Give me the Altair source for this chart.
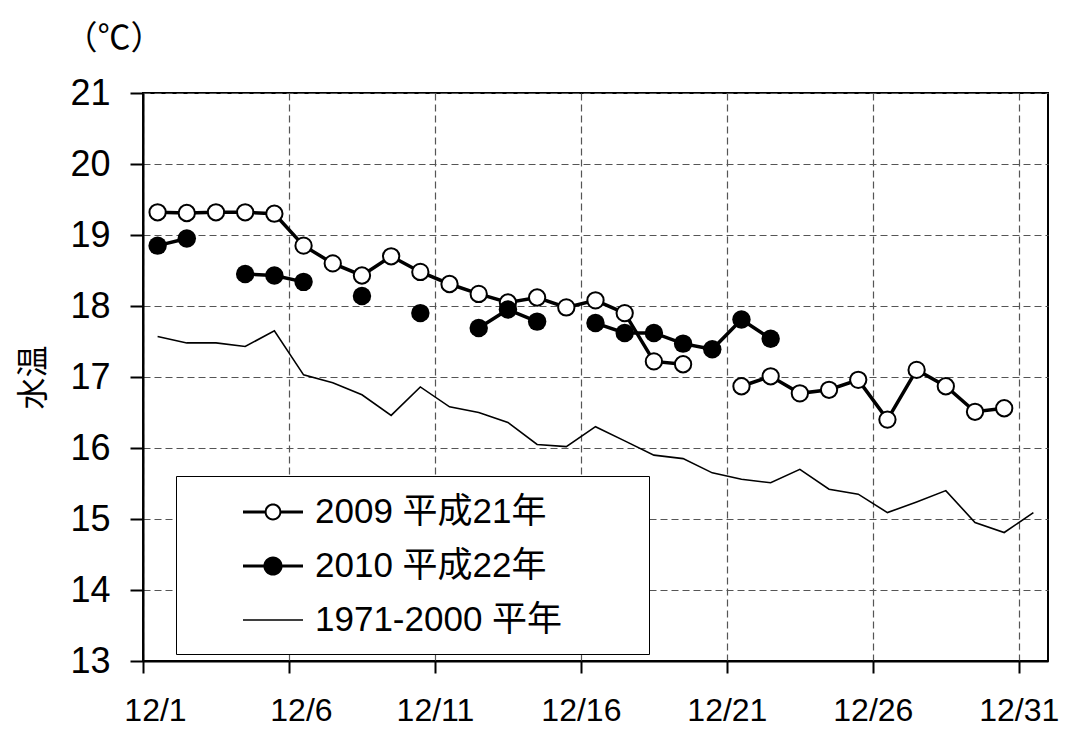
import altair as alt
import pandas as pd

# ---- data ----
days = list(range(1, 32))
s09 = "2009 平成21年"
s10 = "2010 平成22年"
sn = "1971-2000 平年"
series_names = [s09, s10, sn]

t2009 = [19.32, 19.31, 19.32, 19.32, 19.30, 18.85, 18.60, 18.43, 18.70, 18.48,
         18.31, 18.17, 18.05, 18.12, 17.98, 18.08, 17.90, 17.22, 17.18, None,
         16.87, 17.01, 16.77, 16.82, 16.96, 16.40, 17.10, 16.87, 16.51, 16.56, None]
t2010 = [18.85, 18.95, None, 18.45, 18.43, 18.34, None, 18.14, None, 17.90,
         None, 17.69, 17.95, 17.78, None, 17.76, 17.62, 17.62, 17.47, 17.39,
         17.81, 17.54, None, None, None, None, None, None, None, None, None]
tnorm = [17.57, 17.48, 17.48, 17.43, 17.65, 17.03, 16.92, 16.75, 16.46, 16.86,
         16.58, 16.50, 16.36, 16.05, 16.02, 16.30, 16.10, 15.90, 15.85, 15.65,
         15.56, 15.51, 15.70, 15.42, 15.35, 15.09, 15.24, 15.40, 14.95, 14.81, 15.09]

x_ticks = [1, 6, 11, 16, 21, 26, 31]
y_ticks = list(range(13, 22))

# ---- long table, line segments break at missing days ----
rows = []
for name, vals in [(s09, t2009), (s10, t2010), (sn, tnorm)]:
    seg = 0
    for d, v in zip(days, vals):
        if v is None:
            seg += 1
            continue
        rows.append({"series": name, "day": d, "pos": d + 0.5, "value": v, "seg": seg})
df = pd.DataFrame(rows)

FONT = "Liberation Sans, Arial, Noto Sans CJK JP"
CJK = "Noto Sans CJK JP"

x = alt.X("pos:Q", scale=alt.Scale(domain=[1, 32], nice=False, zero=False),
          axis=alt.Axis(values=x_ticks, labelExpr="'12/' + datum.value", title=None,
                        tickSize=12, labelPadding=22, labelFontSize=32,
                        labelFlush=False,
                        labelOffset={"condition": {"test": "datum.value < 10", "value": 12},
                                     "value": 0}))
y = alt.Y("value:Q", scale=alt.Scale(domain=[13, 21], nice=False, zero=False),
          axis=alt.Axis(values=y_ticks, title="水温", tickSize=13, labelPadding=20,
                        labelFontSize=36, titleFont=CJK, titleFontSize=32,
                        titleFontWeight="normal", titleAngle=270, titleX=-110,
                        titleY=284, titleAlign="center", titleBaseline="middle",
                        titleColor="black"))

base = alt.Chart(df)

normal_line = base.transform_filter(alt.datum.series == sn).mark_line(
    color="black", strokeWidth=1.6).encode(x=x, y=y)

line09 = base.transform_filter(alt.datum.series == s09).mark_line(
    color="black", strokeWidth=3.5).encode(x=x, y=y, detail="seg:N")
pts09 = base.transform_filter(alt.datum.series == s09).mark_point(
    shape="circle", filled=True, fill="white", stroke="black", strokeWidth=2,
    size=266, opacity=1).encode(x=x, y=y)

line10 = base.transform_filter(alt.datum.series == s10).mark_line(
    color="black", strokeWidth=3.5).encode(x=x, y=y, detail="seg:N")
pts10 = base.transform_filter(alt.datum.series == s10).mark_point(
    shape="circle", filled=True, fill="black", stroke="black", strokeWidth=0,
    size=340, opacity=1).encode(x=x, y=y)


# ---- legend symbols as filled outlines (unit = half symbol box, 20px) ----
def rect(x1, x2, h):
    return f"M{x1},{-h} L{x2},{-h} L{x2},{h} L{x1},{h} Z "


def circ(r, s):
    k = 0.5523 * r
    return (f"M{r},0 C{r},{s*k} {k},{s*r} 0,{s*r} "
            f"C{-k},{s*r} {-r},{s*k} {-r},0 "
            f"C{-r},{-s*k} {-k},{-s*r} 0,{-s*r} "
            f"C{k},{-s*r} {r},{-s*k} {r},0 Z ")


# empty anchor point that sets the legend frame's right edge
frame_edge = "M18,0 L18,0 Z"
sym09 = rect(-1.5, -0.415, 0.075) + rect(0.415, 1.5, 0.075) + circ(0.42, 1) + circ(0.32, -1) + frame_edge
sym10 = rect(-1.5, -0.475, 0.075) + rect(0.475, 1.5, 0.075) + circ(0.48, 1) + frame_edge
symn = rect(-1.5, 1.5, 0.035) + frame_edge

leg = alt.Legend(orient="none", legendX=33, legendY=383, title=None, padding=16,
                 fillColor="white", strokeColor="black", labelFont=FONT,
                 labelFontSize=35, labelColor="black", labelOffset=22,
                 labelLimit=1000, symbolOffset=61, rowPadding=16, symbolSize=1600,
                 symbolFillColor="black", symbolStrokeWidth=0, symbolOpacity=1)
legend_df = pd.DataFrame({"series": series_names})
legend_layer = alt.Chart(legend_df).transform_filter("false").mark_point(
    filled=True, fill="black", strokeWidth=0, opacity=1, size=1600).encode(
    shape=alt.Shape("series:N", scale=alt.Scale(domain=series_names,
                    range=[sym09, sym10, symn]), legend=leg),
)

chart = alt.layer(normal_line, line09, pts09, line10, pts10, legend_layer).properties(
    width=905, height=568,
    background="white",
    autosize=alt.AutoSizeParams(type="none"),
    padding={"left": 135, "top": 85, "right": 26, "bottom": 66},
    title=alt.TitleParams("（℃）", anchor="start", align="center", baseline="middle",
                          dx=-29, offset=3, frame="group", font=CJK, fontSize=33,
                          fontWeight="normal", color="black"),
).configure_axis(
    labelFont=FONT, labelColor="black", domainColor="black", domainWidth=2,
    tickColor="black", tickWidth=2, grid=True, gridColor="#555",
    gridDash=[7, 4], gridWidth=1.2,
).configure_view(stroke="black", strokeWidth=2)

chart.save("out.html", embed_options={"renderer": "svg", "actions": False})
